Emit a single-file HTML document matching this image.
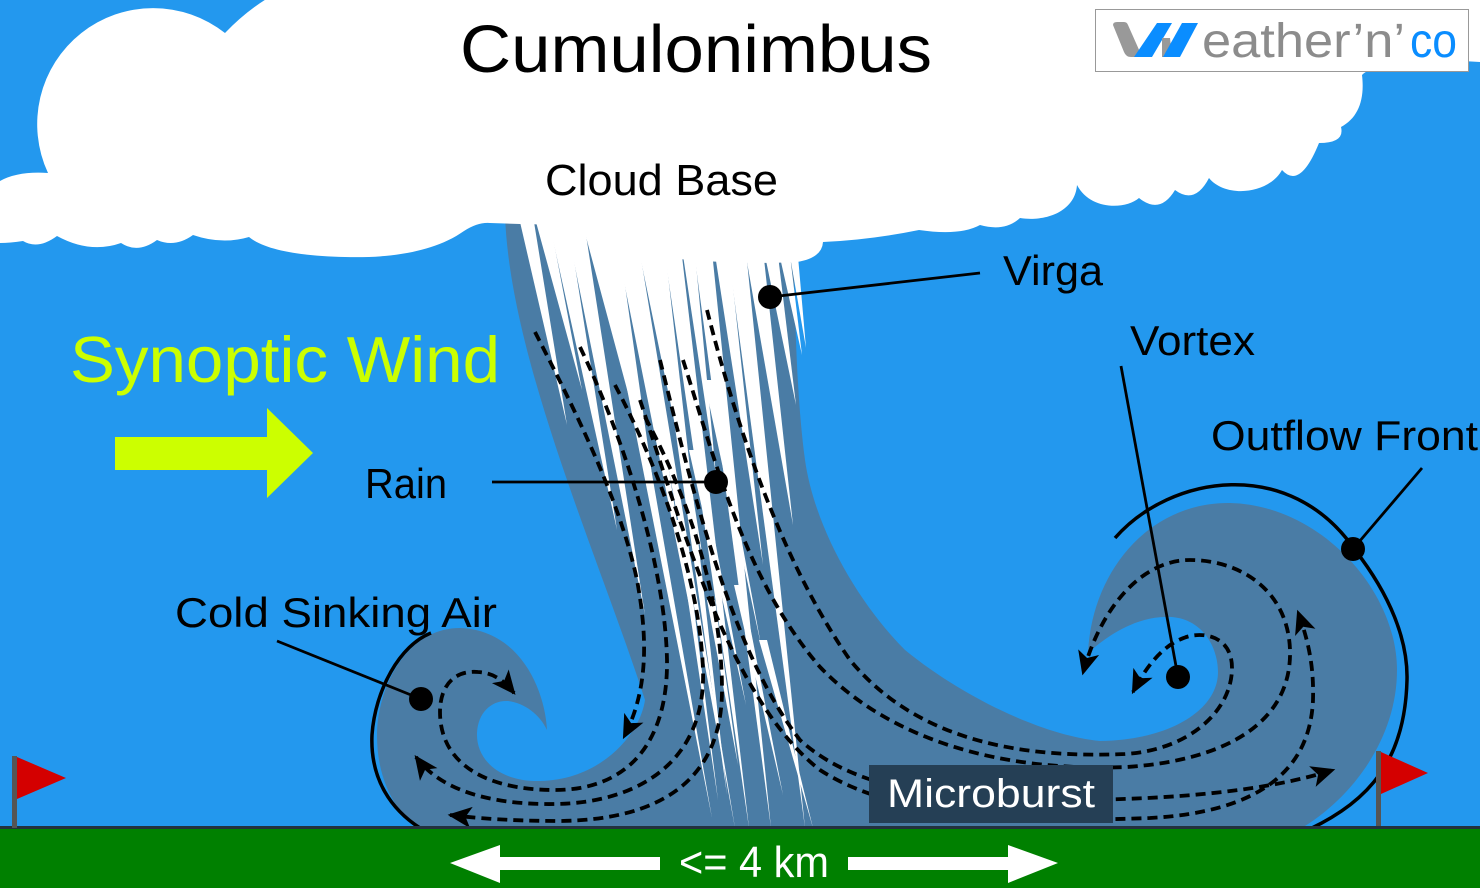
<!DOCTYPE html>
<html>
<head>
<meta charset="utf-8">
<style>
  html,body{margin:0;padding:0;background:#2398ee;}
  svg{display:block;}
  text{font-family:"Liberation Sans",sans-serif;}
</style>
</head>
<body>
<svg width="1480" height="888" viewBox="0 0 1480 888" xmlns="http://www.w3.org/2000/svg">
  <defs>
    <marker id="ah" viewBox="0 0 20 20" refX="18" refY="10" markerWidth="27" markerHeight="24" markerUnits="userSpaceOnUse" orient="auto">
      <path d="M0,1 L20,10 L0,19 L5,10 Z" fill="#000"/>
    </marker>
  </defs>

  <!-- sky -->
  <rect x="0" y="0" width="1480" height="888" fill="#2398ee"/>

  <!-- plume / vortices -->
  <path fill="#4a7ca5" d="
    M505,215
    C510,360 600,560 645,700
    C640,735 600,780 540,781
    C500,782 476,760 477,733
    C478,712 492,700 508,701
    C525,703 540,715 547,730
    C545,690 520,630 460,628
    C405,628 377,690 377,735
    C377,780 395,810 417,829
    L1300,829
    C1350,800 1397,740 1397,670
    C1397,590 1320,505 1230,503
    C1150,502 1092,570 1088,653
    C1110,633 1140,615 1172,617
    C1205,620 1218,650 1218,672
    C1218,710 1170,740 1100,741
    C1040,735 960,695 905,650
    C860,605 815,530 805,460
    C797,400 795,330 793,215 Z"/>

  <!-- rain streaks -->
  <g fill="#ffffff">
    <polygon points="520,222 534,222 567,425"/>
    <polygon points="536,222 550,222 582,390"/>
    <polygon points="549,222 568,222 617,530"/>
    <polygon points="566,222 584,222 645,615"/>
    <polygon points="582,222 614,222 642,445"/>
    <polygon points="594,222 608,222 712,818"/>
    <polygon points="600,222 616,222 657,510"/>
    <polygon points="612,222 630,222 694,630"/>
    <polygon points="623,222 635,222 735,828"/>
    <polygon points="633,222 649,222 704,565"/>
    <polygon points="646,222 662,222 727,795"/>
    <polygon points="660,222 678,222 749,828"/>
    <polygon points="678,222 692,222 716,475"/>
    <polygon points="690,222 709,222 771,828"/>
    <polygon points="710,222 726,222 763,565"/>
    <polygon points="724,222 743,222 805,828"/>
    <polygon points="740,222 760,222 793,525"/>
    <polygon points="758,222 774,222 796,405"/>
    <polygon points="772,222 786,222 802,355"/>
    <polygon points="784,222 795,222 806,348"/>
    <polygon points="734,585 742,585 783,795"/>
    <polygon points="689,450 698,450 746,705"/>
    <polygon points="707,600 715,600 738,765"/>
    <polygon points="759,640 767,640 813,828"/>
    <polygon points="704,380 712,380 761,645"/>
    <polygon points="676,520 683,520 718,800"/>
  </g>

  <!-- dashed flow lines -->
  <g fill="none" stroke="#000" stroke-width="3.8" stroke-dasharray="10 6" marker-end="url(#ah)">
    <path d="M535,332 C575,410 620,500 637,580 C648,640 648,690 624,737"/>
    <path d="M580,347 C620,430 665,560 667,660 C668,740 630,790 555,790 C480,790 440,760 440,712 C440,685 455,670 478,672 C495,673 505,682 514,693"/>
    <path d="M615,385 C660,470 700,580 703,670 C706,760 640,803 555,804 C490,805 440,790 416,757"/>
    <path d="M645,417 C690,500 722,600 722,690 C722,780 660,820 560,821 C510,821 475,818 450,815"/>
    <path d="M707,310 C735,420 780,560 850,660 C920,745 1030,758 1125,754 C1190,750 1232,710 1232,668 C1232,640 1210,632 1190,636 C1165,642 1147,665 1133,692"/>
    <path d="M683,360 C715,460 745,580 820,667 C890,740 1000,772 1127,767 C1230,760 1292,720 1290,650 C1288,590 1240,560 1190,560 C1140,560 1100,610 1083,673"/>
    <path d="M660,360 C690,480 730,650 800,740 C860,795 960,800 1060,800 C1180,800 1270,790 1333,770"/>
    <path d="M640,400 C680,520 730,700 820,770 C900,822 1040,822 1150,818 C1260,812 1310,770 1313,700 C1314,665 1308,640 1298,612"/>
  </g>

  <!-- fronts -->
  <path d="M431,633 C400,645 375,690 372,735 C370,780 392,810 420,828" fill="none" stroke="#000" stroke-width="3.5"/>
  <path d="M1115,538 C1170,475 1290,455 1355,550 C1390,595 1408,640 1407,680 C1405,760 1370,800 1310,829" fill="none" stroke="#000" stroke-width="3.5"/>

  <!-- cloud -->
  <path fill="#ffffff" d="
    M0,181 Q18,171 48,173
    A116,116 0 0,1 225,33
    Q245,12 268,-2
    L1480,-2 L1480,62
    C1420,58 1375,62 1362,75
    C1365,100 1358,118 1341,127
    Q1345,143 1319,143
    Q1300,190 1282,170
    C1268,195 1225,198 1209,178
    Q1195,205 1175,190
    Q1160,215 1139,198
    C1125,210 1090,210 1077,185
    C1075,212 1045,222 1020,218
    Q1005,232 980,225
    Q960,236 919,230
    Q870,240 823,242
    Q822,258 797,262
    C760,264 700,263 647,255
    C620,252 600,250 590,240
    C580,228 560,224 520,224
    L490,223
    Q478,222 464,231
    C430,255 380,258 345,257
    C300,256 265,250 249,237
    Q222,245 193,235
    Q175,248 157,240
    Q138,254 121,243
    Q90,254 57,236
    Q38,250 23,241
    Q10,243 0,243 Z"/>

  <!-- ground -->
  <rect x="0" y="828" width="1480" height="60" fill="#008000"/>
  <rect x="0" y="826" width="1480" height="3" fill="#23313d"/>

  <!-- flags -->
  <rect x="12" y="756" width="5" height="72" fill="#555"/>
  <polygon points="17,757 66,778 17,799" fill="#d40000"/>
  <rect x="1376" y="751" width="5" height="75" fill="#555"/>
  <polygon points="1381,752 1428,773 1381,794" fill="#d40000"/>

  <!-- bottom distance arrows -->
  <polygon points="450,863 500,845 500,857 660,857 660,870 500,870 500,883" fill="#fff"/>
  <polygon points="1058,863 1008,845 1008,857 848,857 848,870 1008,870 1008,883" fill="#fff"/>
  <text x="679" y="877" font-size="44" fill="#fff" textLength="150" lengthAdjust="spacingAndGlyphs">&lt;= 4 km</text>

  <!-- synoptic wind -->
  <text x="70" y="382" font-size="65" fill="#ccff00" textLength="430" lengthAdjust="spacingAndGlyphs">Synoptic Wind</text>
  <polygon points="115,437 267,437 267,408 313,453 267,498 267,470 115,470" fill="#ccff00"/>

  <!-- labels -->
  <text x="460" y="72" font-size="67" fill="#000" textLength="472" lengthAdjust="spacingAndGlyphs">Cumulonimbus</text>
  <text x="545" y="195" font-size="44" fill="#000" textLength="233" lengthAdjust="spacingAndGlyphs">Cloud Base</text>
  <text x="1003" y="285" font-size="42" fill="#000" textLength="100" lengthAdjust="spacingAndGlyphs">Virga</text>
  <text x="1130" y="355" font-size="42" fill="#000" textLength="125" lengthAdjust="spacingAndGlyphs">Vortex</text>
  <text x="1211" y="450" font-size="42" fill="#000" textLength="267" lengthAdjust="spacingAndGlyphs">Outflow Front</text>
  <text x="365" y="498" font-size="42" fill="#000" textLength="82" lengthAdjust="spacingAndGlyphs">Rain</text>
  <text x="175" y="627" font-size="42" fill="#000" textLength="322" lengthAdjust="spacingAndGlyphs">Cold Sinking Air</text>

  <!-- pointers -->
  <g stroke="#000" stroke-width="2.8" fill="none">
    <line x1="770" y1="297" x2="980" y2="273"/>
    <line x1="492" y1="482" x2="716" y2="482"/>
    <line x1="1121" y1="366" x2="1178" y2="677"/>
    <line x1="1353" y1="549" x2="1422" y2="468"/>
    <line x1="277" y1="641" x2="421" y2="699"/>
  </g>
  <g fill="#000">
    <circle cx="770" cy="297" r="12"/>
    <circle cx="716" cy="482" r="12"/>
    <circle cx="1178" cy="677" r="12"/>
    <circle cx="1353" cy="549" r="12"/>
    <circle cx="421" cy="699" r="12"/>
  </g>

  <!-- microburst label -->
  <rect x="869" y="765" width="244" height="58" fill="#253f55"/>
  <text x="887" y="807" font-size="40" fill="#fff" textLength="208" lengthAdjust="spacingAndGlyphs">Microburst</text>

  <!-- logo -->
  <rect x="1095.5" y="9.5" width="373" height="62" fill="#fff" stroke="#999" stroke-width="1"/>
  <g>
    <path d="M1113,25 Q1113,22 1117,22 L1124,22 Q1127,22 1128,25 L1140,52 Q1142,57 1136,57 L1131,57 Q1126,57 1124,52 Z" fill="#999"/>
    <path d="M1157,23 L1172,23 L1152,57 L1134,57 Z" fill="#0a8dff"/>
    <path d="M1162,38 L1170,38 L1172,57 L1162,57 Z" fill="#999"/>
    <path d="M1182,23 L1198,23 L1180,57 L1163,57 Z" fill="#0a8dff"/>
  </g>
  <text x="1202" y="57" font-size="48" fill="#8c8c8c" textLength="203" lengthAdjust="spacingAndGlyphs">eather’n’</text>
  <text x="1410" y="57" font-size="48" fill="#0a8dff" textLength="47" lengthAdjust="spacingAndGlyphs">co</text>
</svg>
</body>
</html>
